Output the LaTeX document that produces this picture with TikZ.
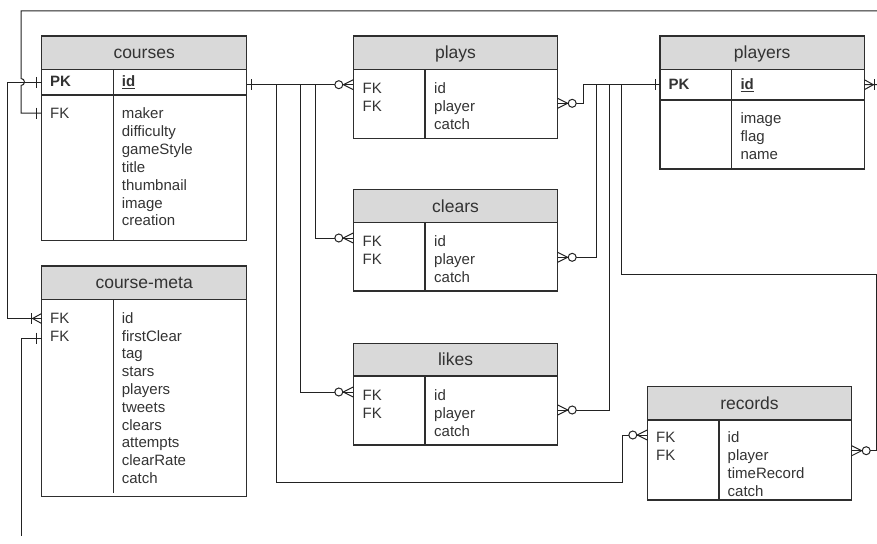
\documentclass[tikz,border=0pt]{standalone}
\usepackage{fontspec}
\setmainfont{Liberation Sans}
\definecolor{hdrgray}{HTML}{D9D9D9}
\definecolor{linec}{HTML}{2E2E2E}
\definecolor{connc}{HTML}{222222}
\definecolor{txt}{HTML}{333333}
\newcommand\titlefont{\fontsize{17.5}{21}\selectfont}
\newcommand\fieldfont{\fontsize{15}{18}\selectfont}

% table frame: name, left, top, right, header bottom, bottom, divider x, title, divider end
\newcommand\erbox[9]{%
  \fill[hdrgray] (#2,#3) rectangle (#4,#5);
  \draw[box] (#2,#3) rectangle (#4,#6);
  \draw[box] (#2,#5) -- (#4,#5);
  \draw[box] (#7,#5) -- (#7,#9);
  \node[ttl] (#1) at ({(#2+#4)/2},{(#3+#5)/2+6}) {#8};
}
% column of field names: prefix, x, first baseline, step, list
\newcommand\fieldcol[5]{%
  \foreach \f [count=\i from 0] in {#5} {
    \node[fld] (#1-\i) at (#2,{#3+\i*#4}) {\f};
  }%
}

\begin{document}
\begin{tikzpicture}[x=1pt,y=-1pt,
  box/.style={draw=linec, line width=1.2pt},
  ttl/.style={anchor=base, font=\titlefont, text=txt, inner sep=0pt},
  fld/.style={anchor=base west, font=\fieldfont, text=txt, inner sep=0pt},
  keyf/.style={fld, font=\fieldfont\bfseries},
  conn/.style={draw=connc, line width=1pt},
  pics/zmany/.style={code={
    \draw[conn] (0,-5) -- (10,0) -- (0,5);
    \draw[conn, fill=white] (14.5,0) circle[radius=4];}},
  pics/onebar/.style={code={
    \draw[conn] (5,-5.5) -- (5,5.5);}},
  pics/onemany/.style={code={
    \draw[conn] (0,-5) -- (9,0) -- (0,5);
    \draw[conn] (10,-5.5) -- (10,5.5);}},
]
\useasboundingbox (0,0) rectangle (877,543);
\clip (0,0) rectangle (877,543);

% ---------- tables ----------
\erbox{courses}{41.6}{36}{246.7}{69.3}{240.6}{113.3}{courses}{240.6}
\draw[box] (41.6,95) -- (246.7,95);
\node[keyf] (coursesPK) at (50,86.7) {PK};
\node[keyf] (coursesID) at (121.7,86.7) {\underline{id}};
\node[fld] (coursesFK) at (50,118.5) {FK};
\fieldcol{cf}{121.7}{118.5}{17.9}{maker,difficulty,gameStyle,title,thumbnail,image,creation}

\erbox{meta}{41.6}{266}{246.7}{299.3}{496.7}{113.3}{course-meta}{493.3}
\node[fld] (metaFK1) at (50,323.3) {FK};
\node[fld] (metaFK2) at (50,341.1) {FK};
\fieldcol{mf}{121.7}{323.3}{17.8}{id,firstClear,tag,stars,players,tweets,clears,attempts,clearRate,catch}

\erbox{plays}{353.3}{36}{557.7}{69.3}{138.3}{425}{plays}{138.3}
\node[fld] (playsFK1) at (362.5,93.3) {FK};
\node[fld] (playsFK2) at (362.5,111.3) {FK};
\fieldcol{pf}{434}{93.3}{18}{id,player,catch}

\erbox{clears}{353.3}{189.3}{557.7}{222.7}{291}{425}{clears}{291}
\node[fld] (clearsFK1) at (362.5,246.6) {FK};
\node[fld] (clearsFK2) at (362.5,264.6) {FK};
\fieldcol{clf}{434}{246.6}{18}{id,player,catch}

\erbox{likes}{353.3}{343.3}{557.7}{376}{445}{425}{likes}{445}
\node[fld] (likesFK1) at (362.5,400) {FK};
\node[fld] (likesFK2) at (362.5,418) {FK};
\fieldcol{lf}{434}{400}{18}{id,player,catch}

\erbox{players}{660}{36}{864.3}{69.3}{169}{731.7}{players}{169}
\draw[box] (660,100) -- (864.3,100);
\node[keyf] (playersPK) at (668.5,89.3) {PK};
\node[keyf] (playersID) at (740.3,89.3) {\underline{id}};
\fieldcol{plf}{740.3}{123.7}{18}{image,flag,name}

\erbox{records}{647.3}{386.7}{851.7}{420}{500}{719}{records}{500}
\node[fld] (recordsFK1) at (656,442.7) {FK};
\node[fld] (recordsFK2) at (656,460.7) {FK};
\fieldcol{rf}{727.5}{442.7}{18}{id,player,timeRecord,catch}

% ---------- attachment points ----------
\coordinate (coursesR) at (246.7,84.7);
\coordinate (coursesL) at (41.6,82.3);
\coordinate (coursesFKL) at (41.6,113);
\coordinate (metaL1) at (41.6,318.5);
\coordinate (metaL2) at (41.6,338);
\coordinate (metaEnd) at (21,536);
\coordinate (playsL) at (353.3,84.7);
\coordinate (playsR) at (557.7,103.3);
\coordinate (clearsL) at (353.3,238);
\coordinate (clearsR) at (557.7,257.3);
\coordinate (likesL) at (353.3,392);
\coordinate (likesR) at (557.7,410);
\coordinate (recordsL) at (647.3,435);
\coordinate (recordsR) at (851.7,450.7);
\coordinate (playersL) at (660,84.3);
\coordinate (playersR) at (864.3,84.7);

% ---------- relations ----------
% courses.id -> plays / clears / likes / records
\draw[conn] (coursesR) -- (playsL);
\draw[conn] (coursesR) -- (315,84.7) |- (clearsL);
\draw[conn] (coursesR) -- (300,84.7) |- (likesL);
\draw[conn] (coursesR) -- (276.7,84.7) -- (276.7,482) -- (622,482) |- (recordsL);
% plays / clears / likes / records -> players.id
\draw[conn] (playsR) -- (583.3,103.3) |- (playersL);
\draw[conn] (clearsR) -- (596,257.3) -- (596,84.3) -- (playersL);
\draw[conn] (likesR) -- (609,410) -- (609,84.3) -- (playersL);
\draw[conn] (recordsR) -- (876.5,450.7) -- (876.5,274.5) -- (621.7,274.5) -- (621.7,84.3) -- (playersL);
% players -> courses.maker, hopping over the courses.id line
\draw[conn] (playersR) -- (880,84.7) -- (880,11) -- (21,11) -- (21,78.5)
  arc[start angle=-90, end angle=90, radius=3.5] -- (21,113) -- (coursesFKL);
% courses.id -> course-meta.id
\draw[conn] (coursesL) -- (7,82.3) -- (7,318.5) -- (metaL1);
% course-meta.firstClear
\draw[conn] (metaL2) -- (21,338) -- (metaEnd);

% ---------- end markers ----------
\pic at (coursesR) {onebar};
\pic[xscale=-1] at (coursesL) {onebar};
\pic[xscale=-1] at (coursesFKL) {onebar};
\pic[xscale=-1] at (metaL1) {onemany};
\pic[xscale=-1] at (metaL2) {onebar};
\pic[xscale=-1] at (playsL) {zmany};
\pic[xscale=-1] at (clearsL) {zmany};
\pic[xscale=-1] at (likesL) {zmany};
\pic[xscale=-1] at (recordsL) {zmany};
\pic at (playsR) {zmany};
\pic at (clearsR) {zmany};
\pic at (likesR) {zmany};
\pic at (recordsR) {zmany};
\pic[xscale=-1] at (playersL) {onebar};
\pic at (playersR) {onemany};
\end{tikzpicture}
\end{document}
